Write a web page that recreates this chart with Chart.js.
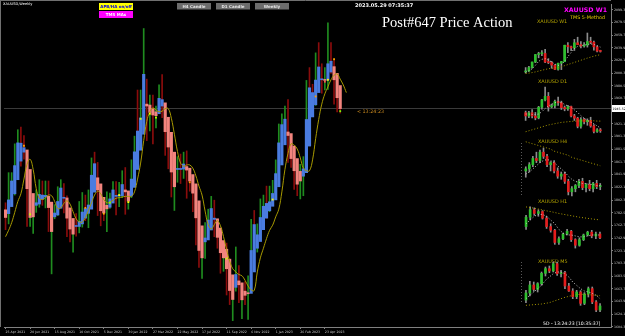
<!DOCTYPE html>
<html>
<head>
<meta charset="utf-8">
<title>XAUUSD Weekly</title>
<script src="https://cdn.jsdelivr.net/npm/chart.js@4.4.0/dist/chart.umd.min.js"></script>
<style>
  body { margin: 0; background: #000; }
  #wrap { position: relative; width: 625px; height: 336px; overflow: hidden; background: #000; }
  canvas { position: absolute; }
</style>
</head>
<body>
<div id="wrap">
  <canvas id="mainChart" width="625" height="336" style="left:0;top:0"></canvas>
</div>
<script>
// x axis labels, one every 8 weekly bars
const dateLabels = ['25 Apr 2021', '20 Jun 2021', '15 Aug 2021', '10 Oct 2021', '5 Dec 2021', '30 Jan 2022',
  '27 Mar 2022', '22 May 2022', '17 Jul 2022', '11 Sep 2022', '6 Nov 2022', '1 Jan 2023', '26 Feb 2023', '23 Apr 2023']

// price scale labels
const priceTicks = ['2099.30', '2079.50', '2059.70', '2039.90', '2020.10', '2000.30', '1980.50', '1960.70', '1940.90',
  '1921.10', '1901.30', '1881.50', '1861.70', '1841.90', '1822.10', '1802.30', '1782.50', '1762.70', '1742.90',
  '1723.10', '1703.30', '1683.50', '1663.70', '1643.90', '1624.10', '1604.30']

const currentPrice = 1945.5
const currentLabel = '1945.52'

// weekly candles (thin bars)
const openP = [1777, 1769, 1831, 1843, 1881, 1903, 1891, 1877, 1764, 1781,
  1784, 1808, 1812, 1802, 1814, 1763, 1779, 1781, 1817, 1827,
  1787, 1754, 1750, 1761, 1757, 1768, 1792, 1783, 1818, 1864,
  1846, 1788, 1783, 1782, 1804, 1809, 1829, 1797, 1817, 1835,
  1791, 1808, 1860, 1898, 1889, 1970, 1988, 1921, 1958, 1925,
  1946, 1975, 1931, 1896, 1883, 1811, 1846, 1853, 1850, 1871,
  1840, 1826, 1811, 1742, 1703, 1727, 1766, 1775, 1802, 1747,
  1738, 1712, 1716, 1675, 1643, 1660, 1694, 1644, 1656, 1644,
  1681, 1771, 1751, 1754, 1797, 1797, 1792, 1798, 1824, 1865,
  1920, 1926, 1928, 1865, 1861, 1842, 1811, 1856, 1868, 1989,
  1978, 1969, 2007, 1993, 1983, 1990, 2016, 2011, 1977, 1946]
const highP = [1798, 1845, 1845, 1890, 1912, 1916, 1903, 1878, 1795, 1790,
  1818, 1834, 1832, 1832, 1832, 1782, 1795, 1823, 1834, 1828,
  1809, 1787, 1764, 1781, 1800, 1814, 1810, 1818, 1868, 1877,
  1861, 1809, 1793, 1815, 1813, 1831, 1831, 1830, 1848, 1853,
  1815, 1865, 1902, 1974, 1974, 2070, 1991, 1966, 1966, 1949,
  1982, 1998, 1936, 1910, 1884, 1849, 1870, 1874, 1877, 1879,
  1847, 1830, 1813, 1752, 1739, 1767, 1788, 1808, 1802, 1765,
  1742, 1729, 1735, 1688, 1671, 1729, 1700, 1669, 1675, 1684,
  1772, 1786, 1765, 1804, 1810, 1824, 1824, 1833, 1865, 1921,
  1937, 1949, 1959, 1890, 1870, 1846, 1858, 1870, 1989, 2009,
  1983, 2032, 2048, 2015, 2009, 2079, 2048, 2020, 1985, 1952]
const lowP = [1756, 1765, 1808, 1810, 1870, 1855, 1866, 1761, 1761, 1750,
  1783, 1791, 1794, 1790, 1753, 1687, 1773, 1778, 1807, 1782,
  1745, 1737, 1721, 1746, 1751, 1760, 1770, 1759, 1814, 1848,
  1778, 1762, 1770, 1753, 1789, 1802, 1779, 1792, 1806, 1780,
  1788, 1806, 1850, 1878, 1889, 1966, 1895, 1910, 1890, 1915,
  1940, 1931, 1872, 1851, 1807, 1786, 1830, 1828, 1836, 1805,
  1816, 1784, 1732, 1697, 1680, 1711, 1754, 1771, 1745, 1727,
  1688, 1691, 1654, 1639, 1614, 1660, 1642, 1617, 1639, 1616,
  1670, 1748, 1721, 1744, 1766, 1774, 1784, 1795, 1820, 1860,
  1896, 1911, 1861, 1853, 1819, 1809, 1804, 1809, 1867, 1934,
  1949, 1950, 1992, 1969, 1974, 1975, 2000, 1952, 1940, 1938]
const closeP = [1769, 1831, 1843, 1881, 1903, 1891, 1877, 1764, 1781, 1784,
  1808, 1812, 1802, 1814, 1763, 1779, 1781, 1817, 1827, 1787,
  1754, 1750, 1761, 1757, 1768, 1792, 1783, 1818, 1864, 1846,
  1788, 1783, 1782, 1804, 1809, 1829, 1797, 1817, 1835, 1791,
  1808, 1860, 1898, 1889, 1970, 1988, 1921, 1958, 1925, 1946,
  1975, 1931, 1896, 1883, 1811, 1846, 1853, 1850, 1871, 1840,
  1826, 1811, 1742, 1703, 1727, 1766, 1775, 1802, 1747, 1738,
  1712, 1716, 1675, 1643, 1660, 1694, 1644, 1656, 1644, 1681,
  1771, 1751, 1754, 1797, 1797, 1792, 1798, 1824, 1865, 1920,
  1926, 1928, 1865, 1861, 1842, 1811, 1856, 1868, 1989, 1978,
  1969, 2007, 1993, 1983, 1990, 2016, 2011, 1977, 1946, 1943]

// average price bar bodies
const apbOpen = [1787, 1781, 1792, 1812, 1834, 1863, 1877, 1880.5, 1850, 1812.5,
  1794, 1796, 1803.5, 1807, 1808, 1799, 1776, 1779, 1789.5, 1805,
  1805.5, 1790, 1773.5, 1761, 1761, 1765, 1774, 1781.5, 1788, 1814.5,
  1837, 1827.5, 1806.5, 1794, 1791, 1797.5, 1808, 1808.5, 1809, 1818,
  1816.5, 1808.5, 1822, 1850, 1880, 1905, 1952, 1950.5, 1945, 1940,
  1937, 1949, 1954, 1931.5, 1908, 1877, 1850, 1850, 1850.5, 1854.5,
  1852, 1842, 1827.5, 1801, 1762, 1737, 1740, 1755.5, 1772, 1773,
  1758.5, 1739, 1725.5, 1710, 1685.5, 1666, 1676, 1673, 1660, 1657,
  1656.5, 1690, 1727, 1737.5, 1756, 1774, 1785.5, 1792.5, 1802.5, 1823,
  1857, 1888.5, 1908.5, 1906, 1886.5, 1867, 1847, 1839.5, 1845, 1886.5,
  1932, 1951, 1970, 1990, 1990, 1989.5, 2002, 2010.5, 2000, 1981]
const apbClose = [1775, 1802.5, 1832, 1856, 1891.5, 1891, 1884, 1820, 1775, 1776,
  1798, 1811, 1810, 1809.5, 1790.5, 1753, 1782, 1800, 1821, 1806,
  1774, 1757, 1749, 1761, 1769, 1783.5, 1789, 1794.5, 1841, 1859,
  1818, 1785.5, 1782, 1788.5, 1804, 1818, 1809, 1809, 1826.5, 1815,
  1800.5, 1835, 1877.5, 1910, 1930.5, 1998.5, 1949, 1939, 1935, 1934,
  1961, 1959, 1909, 1885, 1846, 1823, 1850, 1851, 1858.5, 1849,
  1832, 1813, 1774.5, 1723.5, 1712, 1743, 1771, 1789, 1774, 1744,
  1720, 1712, 1695, 1661, 1647, 1686, 1670, 1646.5, 1653.5, 1656,
  1723.5, 1764, 1748, 1775, 1792.5, 1797, 1799.5, 1812.5, 1843.5, 1891.5,
  1920, 1928.5, 1903, 1867, 1848, 1827, 1832, 1851, 1928, 1977.5,
  1970, 1989.5, 2010, 1990, 1989, 2015, 2019, 1990, 1962, 1945]

// TMS moving average (shifted, runs two bars past the last candle)
const tmsMa = [1745, 1755, 1767, 1783, 1800, 1812, 1835, 1858, 1866, 1850,
  1820, 1805, 1803, 1806, 1810, 1809, 1800, 1789, 1790, 1797,
  1801, 1796, 1784, 1773, 1768, 1768, 1775, 1786, 1798, 1810,
  1816, 1812, 1803, 1798, 1799, 1802, 1805, 1806, 1807, 1808,
  1808, 1808, 1815, 1835, 1860, 1895, 1925, 1940, 1946, 1943,
  1940, 1941, 1945, 1945, 1930, 1905, 1878, 1860, 1855, 1857,
  1857, 1852, 1840, 1824, 1810, 1785, 1764, 1757, 1764, 1770,
  1762, 1745, 1725, 1707, 1695, 1690, 1686, 1684, 1677, 1668,
  1662, 1661, 1690, 1712, 1727, 1742, 1755, 1763, 1776, 1788,
  1815, 1850, 1875, 1890, 1888, 1882, 1868, 1852, 1848, 1848,
  1865, 1898, 1928, 1952, 1968, 1979, 1990, 1997, 1999, 1991,
  1982, 1970]

// signal squares
const signalBar = [6, 8, 26, 32, 34, 37, 40, 44, 47, 49, 60, 72, 87, 101, 104, 105, 107, 109]
const signalPrice = [1887, 1780, 1790, 1781, 1798, 1810, 1799, 1929, 1937, 1931, 1830, 1711, 1803, 1964, 1987, 1990, 2022, 1941]
const signalColor = ['#ffa000', '#c8ff00', '#ffa000', '#ffb000', '#7cfc00', '#ffff00', '#ffff00', '#c8ff00', '#ffff00',
  '#c8ff00', '#ffa000', '#c8ff00', '#ffff00', '#ffa000', '#ff5050', '#ffff00', '#ffa000', '#7cfc00']

// mini panels
const w1Fast = [1790, 1800, 1815, 1840, 1870, 1885, 1890, 1880, 1865, 1850, 1840, 1845,
  1870, 1905, 1935, 1965, 1980, 1985, 1990, 1995, 1998, 1995, 1985, 1975]
const w1Slow = [1780, 1783, 1787, 1792, 1798, 1804, 1810, 1815, 1819, 1822, 1826, 1830,
  1838, 1846, 1854, 1862, 1870, 1878, 1886, 1894, 1901, 1908, 1914, 1919]

const d1Open = [1999, 1989, 1999, 1989, 1983, 2016, 2039, 2050, 2017, 2021, 2034, 2030, 2015, 2011, 2018, 1989, 1982, 1957, 1978, 1971, 1975, 1958, 1941, 1946]
const d1High = [2004, 2003, 2009, 2000, 2019, 2041, 2079, 2062, 2026, 2038, 2048, 2035, 2020, 2022, 2020, 1994, 1985, 1984, 1982, 1980, 1985, 1962, 1950, 1950]
const d1Low = [1975, 1984, 1983, 1977, 1980, 2010, 2036, 2004, 2014, 2014, 2022, 2009, 2005, 2006, 1986, 1975, 1952, 1951, 1964, 1960, 1954, 1936, 1938, 1938]
const d1Close = [1989, 1999, 1989, 1983, 2016, 2039, 2050, 2017, 2021, 2034, 2030, 2015, 2011, 2018, 1989, 1982, 1957, 1978, 1971, 1975, 1958, 1941, 1946, 1943]
const d1Fast = [1995, 1995, 1994, 1993, 1995, 2002, 2012, 2020, 2025, 2030, 2033, 2030, 2025, 2020, 2015, 2008, 2000, 1990, 1982, 1975, 1970, 1965, 1958, 1952]
const d1Slow = [1940, 1943, 1946, 1949, 1952, 1955, 1958, 1961, 1963, 1965, 1967, 1969, 1970, 1971, 1972, 1973, 1973, 1974, 1974, 1974, 1974, 1974, 1973, 1973]

const h4Open = [1958, 1960, 1964, 1970, 1968, 1976, 1972, 1964, 1966, 1958, 1953, 1955, 1948, 1938, 1941, 1944, 1948, 1942, 1945, 1941, 1946, 1943]
const h4High = [1962, 1966, 1972, 1976, 1978, 1980, 1974, 1967, 1968, 1961, 1957, 1957, 1950, 1943, 1945, 1950, 1951, 1946, 1949, 1947, 1949, 1946]
const h4Low = [1952, 1957, 1962, 1966, 1966, 1970, 1962, 1958, 1956, 1951, 1950, 1946, 1935, 1934, 1938, 1942, 1940, 1938, 1939, 1938, 1941, 1940]
const h4Close = [1960, 1964, 1970, 1968, 1976, 1972, 1964, 1966, 1958, 1953, 1955, 1948, 1938, 1941, 1944, 1948, 1942, 1945, 1941, 1946, 1943, 1944]
const h4Fast = [1955, 1957, 1960, 1963, 1966, 1968, 1969, 1968, 1966, 1963, 1960, 1957, 1953, 1950, 1948, 1947, 1946, 1946, 1945, 1945, 1944, 1944]
const h4Slow = [1986, 1985, 1984, 1983, 1982, 1981, 1980, 1979, 1977, 1976, 1975, 1974, 1973, 1971, 1970, 1969, 1968, 1967, 1966, 1965, 1964, 1963]

const h1Open = [1944.5, 1949.5, 1953.5, 1951.5, 1952.5, 1949, 1944.5, 1942.5, 1936, 1938, 1940.5, 1942, 1937.5, 1934.5, 1937.5, 1940, 1941.5, 1939.5, 1940.5]
const h1High = [1950.5, 1955, 1954.5, 1953.5, 1953, 1950, 1946, 1943, 1939, 1941, 1943, 1942.5, 1938, 1938.5, 1940.5, 1942, 1942.5, 1941.5, 1941.5]
const h1Low = [1943, 1948, 1950.5, 1950, 1948.5, 1943.5, 1941.5, 1935, 1935, 1937.5, 1940, 1936.5, 1933, 1934, 1937, 1939.5, 1938.5, 1938, 1938]
const h1Close = [1949.5, 1953.5, 1951.5, 1952.5, 1949, 1944.5, 1942.5, 1936, 1938, 1940.5, 1942, 1937.5, 1934.5, 1937.5, 1940, 1941.5, 1939.5, 1940.5, 1938.5]
const h1Fast = [1946, 1948, 1950, 1951, 1951, 1950, 1948, 1946, 1943, 1941, 1940, 1940, 1939.5, 1939, 1939, 1939.5, 1940, 1940, 1940]
const h1Slow = [1955, 1954.7, 1954.3, 1953.9, 1953.4, 1952.9, 1952.5, 1952.0, 1951.5, 1951.1, 1950.7, 1950.3, 1949.9, 1949.5, 1949.2, 1948.9, 1948.6, 1948.3, 1948.1]

const m5Open = [1940.6, 1942.7, 1945.1, 1943.8, 1945.5, 1948.6, 1950.0, 1949.3, 1951.5, 1948.5, 1948.8, 1944.8, 1943.3, 1941.6, 1943.0, 1939.6, 1942.4, 1944.0, 1940.0, 1937.6]
const m5High = [1943.5, 1946.2, 1946.0, 1945.8, 1949.0, 1950.5, 1950.8, 1952.0, 1952.0, 1949.5, 1949.2, 1945.6, 1944.0, 1943.5, 1943.4, 1942.8, 1944.5, 1944.5, 1940.4, 1939.5]
const m5Low = [1939.8, 1941.8, 1943.2, 1943.0, 1945.0, 1947.8, 1948.8, 1949.0, 1948.0, 1947.5, 1944.0, 1943.2, 1941.0, 1941.0, 1939.0, 1939.2, 1941.5, 1939.5, 1937.0, 1937.0]
const m5Close = [1942.7, 1945.1, 1943.8, 1945.5, 1948.6, 1950.0, 1949.3, 1951.5, 1948.5, 1948.8, 1944.8, 1943.3, 1941.6, 1943.0, 1939.6, 1942.4, 1944.0, 1940.0, 1937.6, 1938.8]
const m5Fast = [1941, 1942, 1943, 1944, 1945, 1946.5, 1947.5, 1948.5, 1949, 1949, 1948.5, 1947.5, 1946, 1945, 1944, 1943.3, 1943, 1942.6, 1942, 1941]
const m5Slow = [1939.0, 1939.1, 1939.2, 1939.3, 1939.4, 1939.6, 1939.8, 1940.2, 1940.6, 1941.0, 1941.4, 1941.7, 1942.0, 1942.2, 1942.3, 1942.3, 1942.2, 1942.1, 1942.0, 1941.9]

const FONT = '"DejaVu Sans", sans-serif'

function txt(ctx, s, x, y, font, color, align) {
    ctx.font = font
    ctx.fillStyle = color
    ctx.textAlign = align || 'left'
    ctx.textBaseline = 'middle'
    ctx.fillText(s, x, y)
}

function button(ctx, x, y, w, h, fill, label, color) {
    ctx.fillStyle = fill
    ctx.fillRect(x, y, w, h)
    txt(ctx, label, x + w / 2, y + h / 2 + 0.5, 'bold 4px ' + FONT, color, 'center')
}

const overlay = {
    id: 'overlay',
    beforeDatasetsDraw(chart) {
        const { ctx, chartArea: a, scales: { y } } = chart
        const py = Math.round(y.getPixelForValue(currentPrice)) + 0.5
        ctx.save()
        ctx.strokeStyle = '#3a3a3a'
        ctx.lineWidth = 1
        ctx.beginPath()
        ctx.moveTo(a.left, py)
        ctx.lineTo(a.right, py)
        ctx.stroke()
        ctx.strokeStyle = '#707070'
        ctx.beginPath()
        ctx.moveTo(0.5, 0)
        ctx.lineTo(0.5, a.bottom)
        ctx.moveTo(0, 0.5)
        ctx.lineTo(a.right, 0.5)
        ctx.stroke()
        ctx.setLineDash([1, 2])
        ctx.strokeStyle = '#5a5a5a'
        ctx.beginPath()
        ctx.moveTo(521.5, 143)
        ctx.lineTo(521.5, 197)
        ctx.moveTo(521.5, 262)
        ctx.lineTo(521.5, 302)
        ctx.stroke()
        ctx.restore()
    },
    afterDraw(chart) {
        const { ctx, chartArea: a, scales: { y } } = chart
        const py = Math.round(y.getPixelForValue(currentPrice)) + 0.5
        ctx.save()
        // current price box on the price scale
        ctx.fillStyle = '#ffffff'
        ctx.fillRect(a.right + 1, py - 3.5, 13, 7)
        txt(ctx, currentLabel, a.right + 1.5, py + 0.3, '3.2px ' + FONT, '#000000')
        txt(ctx, '< 13:24:23', 357, py + 3, '4.8px ' + FONT, '#c8881e')

        txt(ctx, 'XAUUSD,Weekly', 3, 4.5, '3.6px ' + FONT, '#ffffff')
        button(ctx, 99, 3, 34, 7, '#ffff00', 'APB/HA on/off', '#0000e0')
        button(ctx, 99, 11, 34, 7, '#ff00ff', 'TMS MAs', '#ffffff')
        button(ctx, 177, 3, 34, 6.5, '#6c6c6c', 'H4 Candle', '#e6e6e6')
        button(ctx, 216, 3, 34, 6.5, '#6c6c6c', 'D1 Candle', '#e6e6e6')
        button(ctx, 255, 3, 34, 6.5, '#6c6c6c', 'Weekly', '#e6e6e6')

        txt(ctx, '2023.05.29 07:35:37', 355, 6, 'bold 5px ' + FONT, '#ffffff')
        ctx.font = '14.5px "Liberation Serif", serif'
        ctx.fillStyle = '#ffffff'
        ctx.textAlign = 'left'
        ctx.textBaseline = 'alphabetic'
        ctx.fillText('Post#647 Price Action', 382, 26.5)

        txt(ctx, 'XAUUSD W1', 564, 10, 'bold 6.3px ' + FONT, '#ff00ff')
        txt(ctx, 'TMS 5-Method', 570, 18, '4.9px ' + FONT, '#e8d000')
        const paneLabel = '#b4a400'
        txt(ctx, 'XAUUSD W1', 537, 22, '4.9px ' + FONT, paneLabel)
        txt(ctx, 'XAUUSD D1', 538, 81.5, '4.9px ' + FONT, paneLabel)
        txt(ctx, 'XAUUSD H4', 538, 141.5, '4.9px ' + FONT, paneLabel)
        txt(ctx, 'XAUUSD H1', 538, 201.5, '4.9px ' + FONT, paneLabel)
        txt(ctx, 'XAUUSD M5', 538, 261.5, '4.9px ' + FONT, paneLabel)
        txt(ctx, '5D - 13:24:23 [10:35:37]', 543, 324, '4.6px ' + FONT, '#ffffff')
        ctx.restore()
    }
}

new Chart(document.getElementById('mainChart'), {
    type: 'bar',
    data: {
        datasets: [{
            data: highP.map((h, i) => ({ x: i, y: [lowP[i], h] })),
            backgroundColor: closeP.map((c, i) => c >= openP[i] ? '#1f8c1f' : '#8a0c0c'),
            barThickness: 1,
            grouped: false,
            order: 4
        }, {
            data: apbOpen.map((o, i) => ({ x: i, y: [o, apbClose[i]] })),
            backgroundColor: apbClose.map((c, i) => c >= apbOpen[i] ? '#4a7ce0' : '#f2847e'),
            barThickness: 2.5,
            minBarLength: 1,
            grouped: false,
            order: 3
        }, {
            type: 'line',
            data: tmsMa.map((v, i) => ({ x: i, y: v })),
            borderColor: '#a89a00',
            borderWidth: 1,
            pointRadius: 0,
            tension: 0.4,
            order: 2
        }, {
            type: 'scatter',
            data: signalBar.map((b, i) => ({ x: b, y: signalPrice[i] })),
            pointStyle: 'rect',
            pointRadius: 1.3,
            borderWidth: 0,
            backgroundColor: signalColor,
            order: 1
        }]
    },
    options: {
        responsive: false,
        animation: false,
        events: [],
        layout: { padding: 0 },
        plugins: { legend: { display: false }, tooltip: { enabled: false } },
        scales: {
            x: {
                type: 'linear',
                offset: false,
                min: -0.5,
                max: 197.2,
                afterBuildTicks: scale => { scale.ticks = dateLabels.map((_, k) => ({ value: k * 8 })) },
                afterFit: scale => { scale.height = 9 },
                ticks: {
                    autoSkip: false,
                    maxRotation: 0,
                    align: 'start',
                    padding: 1,
                    color: '#c8c8c8',
                    font: { size: 3.2, family: FONT },
                    callback: v => dateLabels[Math.round(v / 8)] || ''
                },
                grid: { offset: false, drawOnChartArea: false, color: '#808080', tickLength: 2 },
                border: { color: '#808080' }
            },
            y: {
                position: 'right',
                min: 1604.05,
                max: 2108.3,
                afterBuildTicks: scale => { scale.ticks = priceTicks.map(s => ({ value: parseFloat(s) })) },
                afterFit: scale => { scale.width = 14 },
                ticks: {
                    autoSkip: false,
                    padding: 1,
                    color: '#c8c8c8',
                    font: { size: 3.2, family: FONT },
                    callback: v => v.toFixed(2)
                },
                grid: { drawOnChartArea: false, color: '#808080', tickLength: 2 },
                border: { color: '#808080' }
            }
        }
    },
    plugins: [overlay]
})

function miniChart(top, height, min, max, o, h, l, c, fast, slow) {
    const cv = document.createElement('canvas')
    cv.width = 78
    cv.height = height
    cv.style.left = '524px'
    cv.style.top = top + 'px'
    document.getElementById('wrap').appendChild(cv)
    new Chart(cv, {
        type: 'bar',
        data: {
            labels: o.map((_, i) => i),
            datasets: [{
                data: l.map((v, i) => [v, h[i]]),
                backgroundColor: '#8c8c8c',
                barThickness: 1,
                grouped: false,
                order: 4
            }, {
                data: o.map((v, i) => [v, c[i]]),
                backgroundColor: o.map((v, i) => c[i] >= v ? '#2ec02e' : '#e41c1c'),
                barThickness: 2,
                minBarLength: 1,
                grouped: false,
                order: 3
            }, {
                type: 'line',
                data: slow,
                borderColor: '#a89800',
                borderWidth: 1,
                borderDash: [1, 2],
                pointRadius: 0,
                order: 2
            }, {
                type: 'line',
                data: fast,
                borderColor: '#c8c8c8',
                borderWidth: 1,
                borderDash: [1, 2],
                pointRadius: 0,
                order: 1
            }]
        },
        options: {
            responsive: false,
            animation: false,
            events: [],
            layout: { padding: 0 },
            plugins: { legend: { display: false }, tooltip: { enabled: false } },
            scales: {
                x: { display: false, offset: true },
                y: { display: false, min: min, max: max }
            }
        }
    })
}

const w1From = 86
miniChart(28, 50, 1747, 2116, openP.slice(w1From), highP.slice(w1From), lowP.slice(w1From), closeP.slice(w1From), w1Fast, w1Slow)
miniChart(84, 53, 1923.6, 2088.3, d1Open, d1High, d1Low, d1Close, d1Fast, d1Slow)
miniChart(140, 59, 1931.1, 1987.7, h4Open, h4High, h4Low, h4Close, h4Fast, h4Slow)
miniChart(203, 49, 1930.9, 1957.1, h1Open, h1High, h1Low, h1Close, h1Fast, h1Slow)
miniChart(260, 52, 1937.0, 1952.6, m5Open, m5High, m5Low, m5Close, m5Fast, m5Slow)
</script>
</body>
</html>
